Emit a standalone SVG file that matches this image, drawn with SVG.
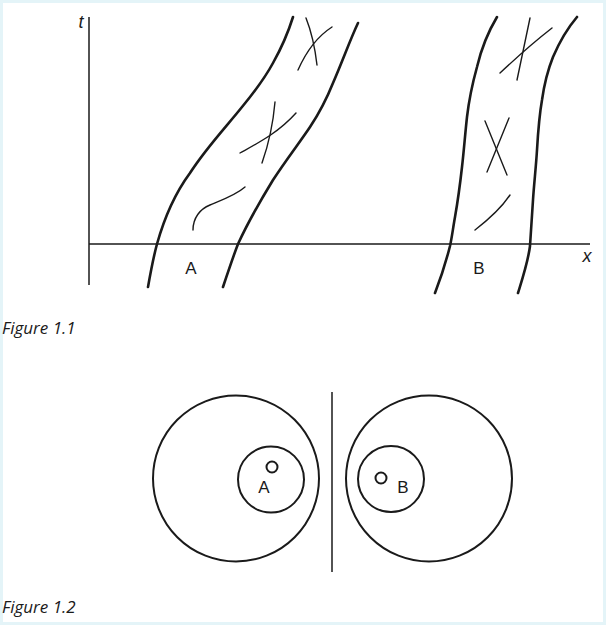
<svg xmlns="http://www.w3.org/2000/svg" width="606" height="625" viewBox="0 0 606 625">
<style>
.wl{fill:none;stroke:#1a1a1a;stroke-width:2.6;stroke-linecap:round}
.ax{fill:none;stroke:#1a1a1a;stroke-width:1.5}
.sq{fill:none;stroke:#1a1a1a;stroke-width:1.4;stroke-linecap:round}
.c{fill:none;stroke:#1a1a1a;stroke-width:2}
.lbl{font-family:"Liberation Sans",Arial,sans-serif;font-size:17px;fill:#1a1a1a;text-anchor:middle}
.var{font-family:"Liberation Sans",Arial,sans-serif;font-size:18px;font-style:italic;fill:#1a1a1a;text-anchor:middle}
.cap{font-family:"Open Sans","DejaVu Sans",sans-serif;font-style:italic;font-size:17px;fill:#1a1a1a}
</style>
<rect x="0" y="0" width="606" height="625" fill="#e4f4f8"/>
<rect x="3" y="3" width="600" height="619" fill="#ffffff"/>
<g id="figure1">
<g id="axes">
<line class="ax" x1="89" y1="17" x2="89" y2="285"/>
<line class="ax" x1="89" y1="244" x2="590" y2="244"/>
<text x="81" y="28" class="var">t</text>
<text x="587" y="262" class="var">x</text>
</g>
<g id="worldtube-A">
<path class="wl" d="M148,287 C151,270 154,255 157,244 C166,212 176,192 190,173 C206,148 226,127 242,107 C256,90 266,76 273,63 C282,47 288,33 293,17"/>
<path class="wl" d="M223,287 C228,272 233,257 238,244 C250,218 262,198 273,180 C286,160 300,142 310,127 C320,112 327,98 333,83 C343,60 350,40 358,23"/>
<path class="sq" d="M193,230 C193,218 200,209 210,205 C222,200 236,195 245,187"/>
<path class="sq" d="M240,153 C258,143 278,133 296,113"/>
<path class="sq" d="M275,102 C273,125 268,146 262,163"/>
<path class="sq" d="M298,70 C306,52 318,36 332,27"/>
<path class="sq" d="M306,18 C312,33 315,48 317,65"/>
<text x="191" y="274" class="lbl">A</text>
</g>
<g id="worldtube-B">
<path class="wl" d="M497,17 C488,32 481,50 477,67 C472,85 469,100 467,117 C465,135 464,150 462,167 C460,185 458,200 455,217 C453,228 452,237 450,246 C446,262 440,280 435,293"/>
<path class="wl" d="M577,17 C566,30 559,43 553,57 C547,72 544,86 542,100 C539,117 538,133 537,150 C536,167 534,184 533,200 C532,216 531,232 530,246 C528,262 522,280 518,293"/>
<path class="sq" d="M500,73 C516,58 534,42 552,28"/>
<path class="sq" d="M530,18 C526,38 521,60 517,80"/>
<path class="sq" d="M485,121 L507,175"/>
<path class="sq" d="M509,118 L487,172"/>
<path class="sq" d="M475,230 C488,220 500,210 510,195"/>
<text x="479" y="274" class="lbl">B</text>
</g>
<text x="2" y="334" class="cap">Figure 1.1</text>
</g>
<g id="figure2">
<g id="region-A">
<circle class="c" cx="236" cy="478.5" r="83"/>
<circle class="c" cx="271" cy="479.5" r="33"/>
<circle class="c" cx="272" cy="467" r="5.5"/>
<text x="264" y="493" class="lbl">A</text>
</g>
<line id="separator" class="ax" x1="332" y1="392" x2="332" y2="572"/>
<g id="region-B">
<circle class="c" cx="429" cy="478.5" r="83"/>
<circle class="c" cx="391" cy="479" r="33"/>
<circle class="c" cx="381" cy="478" r="5.5"/>
<text x="403" y="493" class="lbl">B</text>
</g>
<text x="2" y="613" class="cap">Figure 1.2</text>
</g>
</svg>
